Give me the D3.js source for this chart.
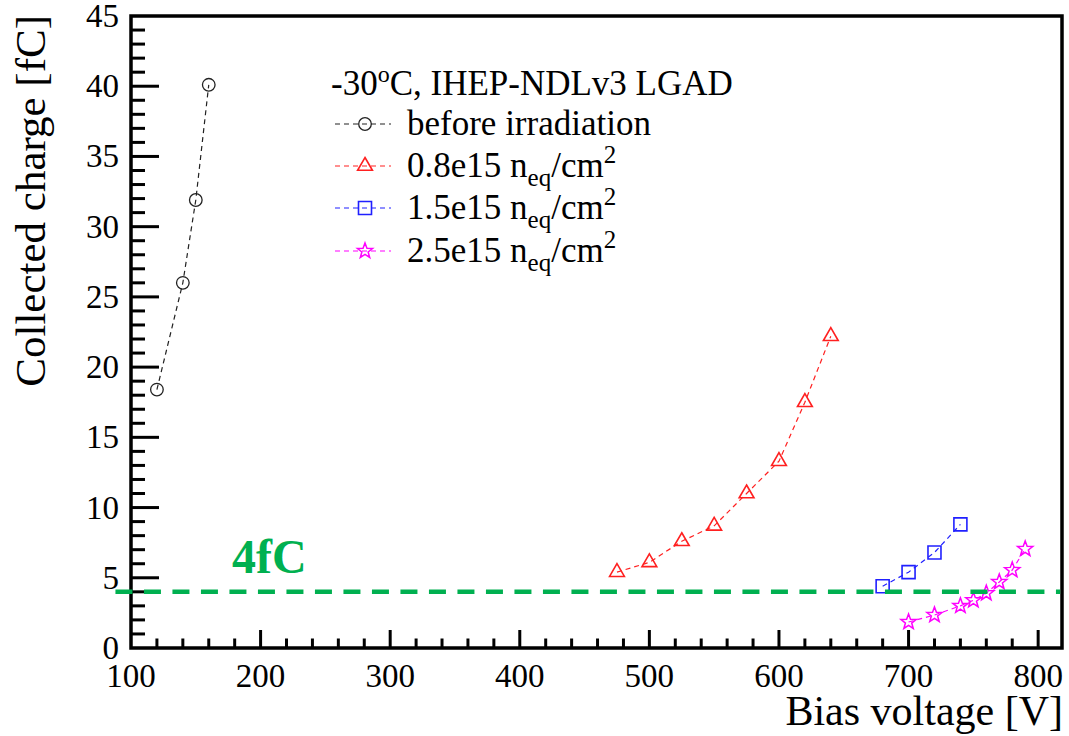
<!DOCTYPE html>
<html>
<head>
<meta charset="utf-8">
<script src="https://cdn.jsdelivr.net/npm/d3@7"></script>
<style>
  html, body { margin: 0; padding: 0; background: #fff; }
  svg { display: block; }
</style>
</head>
<body>
<svg id="chart" width="1069" height="736" style="font-family: 'Liberation Serif', 'Times New Roman', serif;"></svg>
<script>
// Collected charge vs. bias voltage, IHEP-NDLv3 LGAD at -30 C
const seriesNames = ["before irradiation", "0.8e15", "1.5e15", "2.5e15"];

const beforeVoltage = [120, 140, 150, 160];
const beforeCharge  = [18.4, 26.0, 31.9, 40.1];

const flu08Voltage = [475, 500, 525, 550, 575, 600, 620, 640];
const flu08Charge  = [5.4, 6.1, 7.6, 8.7, 11.0, 13.3, 17.5, 22.2];

const flu15Voltage = [680, 700, 720, 740];
const flu15Charge  = [4.4, 5.4, 6.8, 8.8];

const flu25Voltage = [700, 720, 740, 750, 760, 770, 780, 790];
const flu25Charge  = [1.85, 2.35, 3.0, 3.4, 3.9, 4.7, 5.55, 7.05];

const xTickLabels = [100, 200, 300, 400, 500, 600, 700, 800];
const yTickLabels = [0, 5, 10, 15, 20, 25, 30, 35, 40, 45];

// 4 fC threshold reference line
const thresholdCharge = 4;
const thresholdVoltageSpan = [88, 817];

const xDomain = [100, 818.4];
const yDomain = [0, 45];

const svg = d3.select("#chart");
const frame = { left: 131, right: 1062, top: 16, bottom: 648 };

const x = d3.scaleLinear().domain(xDomain).range([frame.left, frame.right]);
const y = d3.scaleLinear().domain(yDomain).range([frame.bottom, frame.top]);

// ---------- axes ----------
const ax = svg.append("g");
const xMinor = d3.range(120, 818, 20).filter(v => v % 100 !== 0);
const yMinor = d3.range(1, 45, 1).filter(v => v % 5 !== 0);

ax.selectAll(".xmaj").data(xTickLabels.filter(v => v > 100)).enter().append("line")
  .attr("x1", d => x(d)).attr("x2", d => x(d))
  .attr("y1", frame.bottom).attr("y2", frame.bottom - 18)
  .attr("stroke", "#000").attr("stroke-width", 3);
ax.selectAll(".xmin").data(xMinor).enter().append("line")
  .attr("x1", d => x(d)).attr("x2", d => x(d))
  .attr("y1", frame.bottom).attr("y2", frame.bottom - 9.5)
  .attr("stroke", "#000").attr("stroke-width", 3);
ax.selectAll(".ymaj").data(yTickLabels.filter(v => v > 0 && v < 45)).enter().append("line")
  .attr("x1", frame.left).attr("x2", frame.left + 28)
  .attr("y1", d => y(d)).attr("y2", d => y(d))
  .attr("stroke", "#000").attr("stroke-width", 3);
ax.selectAll(".ymin").data(yMinor).enter().append("line")
  .attr("x1", frame.left).attr("x2", frame.left + 14)
  .attr("y1", d => y(d)).attr("y2", d => y(d))
  .attr("stroke", "#000").attr("stroke-width", 3);

ax.append("rect")
  .attr("x", frame.left).attr("y", frame.top)
  .attr("width", frame.right - frame.left).attr("height", frame.bottom - frame.top)
  .attr("fill", "none").attr("stroke", "#000").attr("stroke-width", 3.5);

ax.selectAll(".xlab").data(xTickLabels).enter().append("text")
  .attr("x", d => x(d)).attr("y", frame.bottom + 39)
  .attr("text-anchor", "middle").attr("font-size", 33).text(d => d);
ax.selectAll(".ylab").data(yTickLabels).enter().append("text")
  .attr("x", frame.left - 12).attr("y", d => y(d) + 11)
  .attr("text-anchor", "end").attr("font-size", 33).text(d => d);

svg.append("text")
  .attr("x", 1063).attr("y", 725)
  .attr("text-anchor", "end").attr("font-size", 42)
  .text("Bias voltage [V]");
svg.append("text")
  .attr("transform", "translate(45,15) rotate(-90)")
  .attr("text-anchor", "end").attr("font-size", 43)
  .text("Collected charge [fC]");

// ---------- markers ----------
function starPath(r, ri) {
  const pts = [];
  for (let i = 0; i < 10; i++) {
    const a = -Math.PI / 2 + i * Math.PI / 5;
    const rr = i % 2 === 0 ? r : ri;
    pts.push([rr * Math.cos(a), rr * Math.sin(a)]);
  }
  return "M" + pts.map(p => p[0].toFixed(2) + "," + p[1].toFixed(2)).join("L") + "Z";
}
const markerPath = {
  circle: d3.symbol(d3.symbolCircle, Math.PI * 6.3 * 6.3)(),
  triangle: "M0,-8.5L7.4,4.3L-7.4,4.3Z",
  square: "M-6.5,-6.5H6.5V6.5H-6.5Z",
  star: starPath(8, 3.3)
};

const series = [
  { name: seriesNames[0], vx: beforeVoltage, vy: beforeCharge, color: "#222222", marker: "circle", mw: 1.3 },
  { name: seriesNames[1], vx: flu08Voltage, vy: flu08Charge, color: "#ff2020", marker: "triangle", mw: 1.6 },
  { name: seriesNames[2], vx: flu15Voltage, vy: flu15Charge, color: "#2020ff", marker: "square", mw: 1.6 },
  { name: seriesNames[3], vx: flu25Voltage, vy: flu25Charge, color: "#ff00ff", marker: "star", mw: 1.5 }
];

const line = d3.line().x(d => x(d[0])).y(d => y(d[1]));
const plot = svg.append("g");
series.forEach(s => {
  const pts = s.vx.map((v, i) => [v, s.vy[i]]);
  plot.append("path").datum(pts)
    .attr("d", line)
    .attr("fill", "none").attr("stroke", s.color)
    .attr("stroke-width", 1.2).attr("stroke-dasharray", "5,4");
  plot.selectAll(null).data(pts).enter().append("path")
    .attr("transform", d => `translate(${x(d[0])},${y(d[1])})`)
    .attr("d", markerPath[s.marker])
    .attr("fill", "none").attr("stroke", s.color).attr("stroke-width", s.mw);
});

// ---------- threshold line ----------
svg.append("line")
  .attr("x1", x(thresholdVoltageSpan[0])).attr("x2", x(thresholdVoltageSpan[1]))
  .attr("y1", y(thresholdCharge)).attr("y2", y(thresholdCharge))
  .attr("stroke", "#00b050").attr("stroke-width", 4.5)
  .attr("stroke-dasharray", "17,11.5");
svg.append("text")
  .attr("x", 232).attr("y", 573)
  .attr("font-size", 48).attr("font-weight", "bold").attr("fill", "#00b050")
  .text(thresholdCharge + "fC");

// ---------- legend ----------
const lg = svg.append("g");
const title = lg.append("text").attr("x", 331).attr("y", 95).attr("font-size", 35);
title.append("tspan").text("-30");
title.append("tspan").attr("font-size", 24).attr("dy", -13).text("o");
title.append("tspan").attr("dy", 13).text("C, IHEP-NDLv3 LGAD");

const rowBaseline = [135, 177, 219, 262];
series.forEach((s, i) => {
  const cy = rowBaseline[i] - 11;
  lg.append("line")
    .attr("x1", 335).attr("x2", 391).attr("y1", cy).attr("y2", cy)
    .attr("stroke", s.color).attr("stroke-width", 1.2).attr("stroke-dasharray", "5,4");
  lg.append("path")
    .attr("transform", `translate(365,${cy})`)
    .attr("d", markerPath[s.marker])
    .attr("fill", "none").attr("stroke", s.color).attr("stroke-width", s.mw);
  const t = lg.append("text").attr("x", 407).attr("y", rowBaseline[i]).attr("font-size", 35);
  if (i === 0) {
    t.text(s.name);
  } else {
    t.append("tspan").text(s.name + " n");
    t.append("tspan").attr("font-size", 25).attr("dy", 9).text("eq");
    t.append("tspan").attr("dy", -9).text("/cm");
    t.append("tspan").attr("font-size", 25).attr("dy", -14).text("2");
  }
});
</script>
</body>
</html>
